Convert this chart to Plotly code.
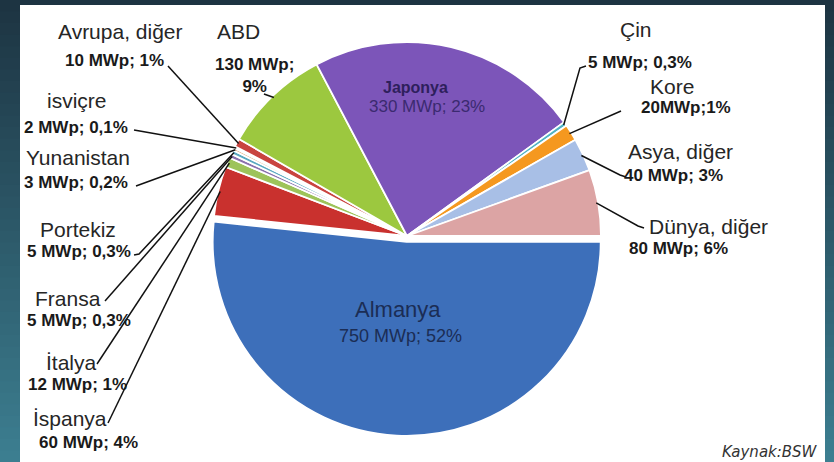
import math
import plotly.graph_objects as go

W, H = 834, 462

# Installed PV capacity (MWp), slices in clockwise order starting at 3 o'clock
countries = ["Almanya", "İspanya", "İtalya", "Fransa", "Portekiz", "Yunanistan",
             "isviçre", "Avrupa, diğer", "ABD", "Japonya", "Çin", "Kore",
             "Asya, diğer", "Dünya, diğer"]
capacity_mwp = [750, 60, 12, 5, 5, 3, 2, 10, 130, 330, 5, 20, 40, 80]
share_labels = ["52%", "4%", "1%", "0,3%", "0,3%", "0,2%", "0,1%", "1%", "9%",
                "23%", "0,3%", "1%", "3%", "6%"]
value_formats = ["{v} MWp; {p}"] * 8 + ["{v} MWp;<br>{p}", "{v} MWp; {p}",
                                        "{v} MWp; {p}", "{v}MWp;{p}",
                                        "{v} MWp; {p}", "{v} MWp; {p}"]
source_note = "Kaynak:BSW"

slice_colors = ["#3d6fba", "#c9312e", "#9dc35a", "#8a71ad", "#5aa9c0", "#d9975a",
                "#6f86a8", "#c9443f", "#9cc83f", "#7c55b9", "#4fb3c4", "#f5981f",
                "#a8bfe6", "#dca4a4"]
pulls = [0.03] + [0] * 13

# pie geometry in pixels
CX, CY, R = 407, 236, 194
START_DEG = 90

# label layout: name centre, value centre, leader line points (label side first)
label_layout = {
    "Almanya":       dict(name=(398, 309), value=(400, 336), inside=True,
                          nsize=22, vsize=18, ncolor="#1b2d55", vcolor="#1b2d55"),
    "Japonya":       dict(name=(415, 87), value=(427, 106), inside=True, nbold=True,
                          nsize=16, vsize=17, ncolor="#2e1f5c", vcolor="#3b2a70"),
    "İspanya":       dict(name=(70, 418), value=(88, 442), line=[(108, 423)]),
    "İtalya":        dict(name=(71, 362), value=(77, 384), line=[(97, 364)]),
    "Fransa":        dict(name=(68, 298), value=(79, 320), line=[(105, 301)]),
    "Portekiz":      dict(name=(78, 229), value=(79, 252), line=[(134, 255), (139, 254)]),
    "Yunanistan":    dict(name=(78, 157), value=(76, 183), line=[(136, 186)]),
    "isviçre":       dict(name=(77, 101), value=(76, 127), line=[(134, 130)]),
    "Avrupa, diğer": dict(name=(120, 31), value=(114, 60), line=[(168, 66)]),
    "ABD":           dict(name=(238, 31), value=(254, 75), line=[(264, 94)]),
    "Çin":           dict(name=(636, 29), value=(640, 62), line=[(586, 66), (580, 68)]),
    "Kore":          dict(name=(672, 86), value=(686, 107), line=[(621, 111)]),
    "Asya, diğer":   dict(name=(680, 151), value=(673, 175), line=[(626, 177), (620, 175)]),
    "Dünya, diğer":  dict(name=(708, 226), value=(678, 248), line=[(644, 228), (638, 226)]),
}


def px(x):
    return x / W


def py(y):
    return 1 - y / H


half_box = R * (1 + max(pulls))
fig = go.Figure(go.Pie(
    labels=countries,
    values=capacity_mwp,
    sort=False,
    direction="clockwise",
    rotation=START_DEG,
    pull=pulls,
    marker=dict(colors=slice_colors, line=dict(color="white", width=1.8)),
    textinfo="none",
    hoverinfo="label+value+percent",
    showlegend=False,
    domain=dict(x=[(CX - half_box) / W, (CX + half_box) / W],
                y=[(H - CY - half_box) / H, (H - CY + half_box) / H]),
))

shapes = []
# dark teal backdrop, lighter towards the bottom
top_rgb, bot_rgb = (29, 52, 66), (60, 126, 144)
bands = 40
for i in range(bands):
    t = i / (bands - 1)
    c = tuple(round(a + (b - a) * t) for a, b in zip(top_rgb, bot_rgb))
    shapes.append(dict(type="rect", xref="paper", yref="paper", layer="below",
                       x0=0, x1=1, y0=py(H * (i + 1) / bands) - 0.002,
                       y1=py(H * i / bands),
                       fillcolor="rgb(%d,%d,%d)" % c, line=dict(width=0)))
# white panel
shapes.append(dict(type="rect", xref="paper", yref="paper", layer="below",
                   x0=px(20), x1=px(825), y0=0, y1=py(5),
                   fillcolor="white", line=dict(width=0)))

annotations = []
total = sum(capacity_mwp)
cum = 0
for name, v, p, fmt in zip(countries, capacity_mwp, share_labels, value_formats):
    mid_deg = START_DEG + (cum + v / 2) / total * 360
    cum += v
    lay = label_layout[name]
    inside = lay.get("inside", False)
    nsize = lay.get("nsize", 21)
    vsize = lay.get("vsize", 17)
    ntext = "<b>%s</b>" % name if lay.get("nbold") else name
    vtext = fmt.format(v=v, p=p)
    if not inside:
        vtext = "<b>%s</b>" % vtext
    annotations.append(dict(x=px(lay["name"][0]), y=py(lay["name"][1]),
                            xref="paper", yref="paper", text=ntext, showarrow=False,
                            xanchor="center", yanchor="middle",
                            font=dict(family="Liberation Sans, Arial, sans-serif",
                                      size=nsize, color=lay.get("ncolor", "#262626"))))
    annotations.append(dict(x=px(lay["value"][0]), y=py(lay["value"][1]),
                            xref="paper", yref="paper", text=vtext, showarrow=False,
                            xanchor="center", yanchor="middle",
                            font=dict(family="Liberation Sans, Arial, sans-serif",
                                      size=vsize, color=lay.get("vcolor", "#1a1a1a"))))
    if "line" in lay:
        a = math.radians(mid_deg)
        tx = CX + R * 0.99 * math.sin(a)
        ty = CY - R * 0.99 * math.cos(a)
        pts = lay["line"] + [(tx, ty)]
        path = "M " + " L ".join("%.4f,%.4f" % (px(x), py(y)) for x, y in pts)
        shapes.append(dict(type="path", xref="paper", yref="paper", path=path,
                           line=dict(color="#111111", width=1.5), layer="above"))

annotations.append(dict(x=px(820), y=py(452), xref="paper", yref="paper",
                        text="<i>%s</i>" % source_note, showarrow=False,
                        xanchor="right", yanchor="middle",
                        font=dict(family="DejaVu Sans, sans-serif", size=15,
                                  color="#333333")))

fig.update_layout(
    width=W, height=H,
    margin=dict(l=0, r=0, t=0, b=0),
    paper_bgcolor="rgb(29,52,66)",
    plot_bgcolor="rgba(0,0,0,0)",
    shapes=shapes,
    annotations=annotations,
)

fig.write_html("out.html")
